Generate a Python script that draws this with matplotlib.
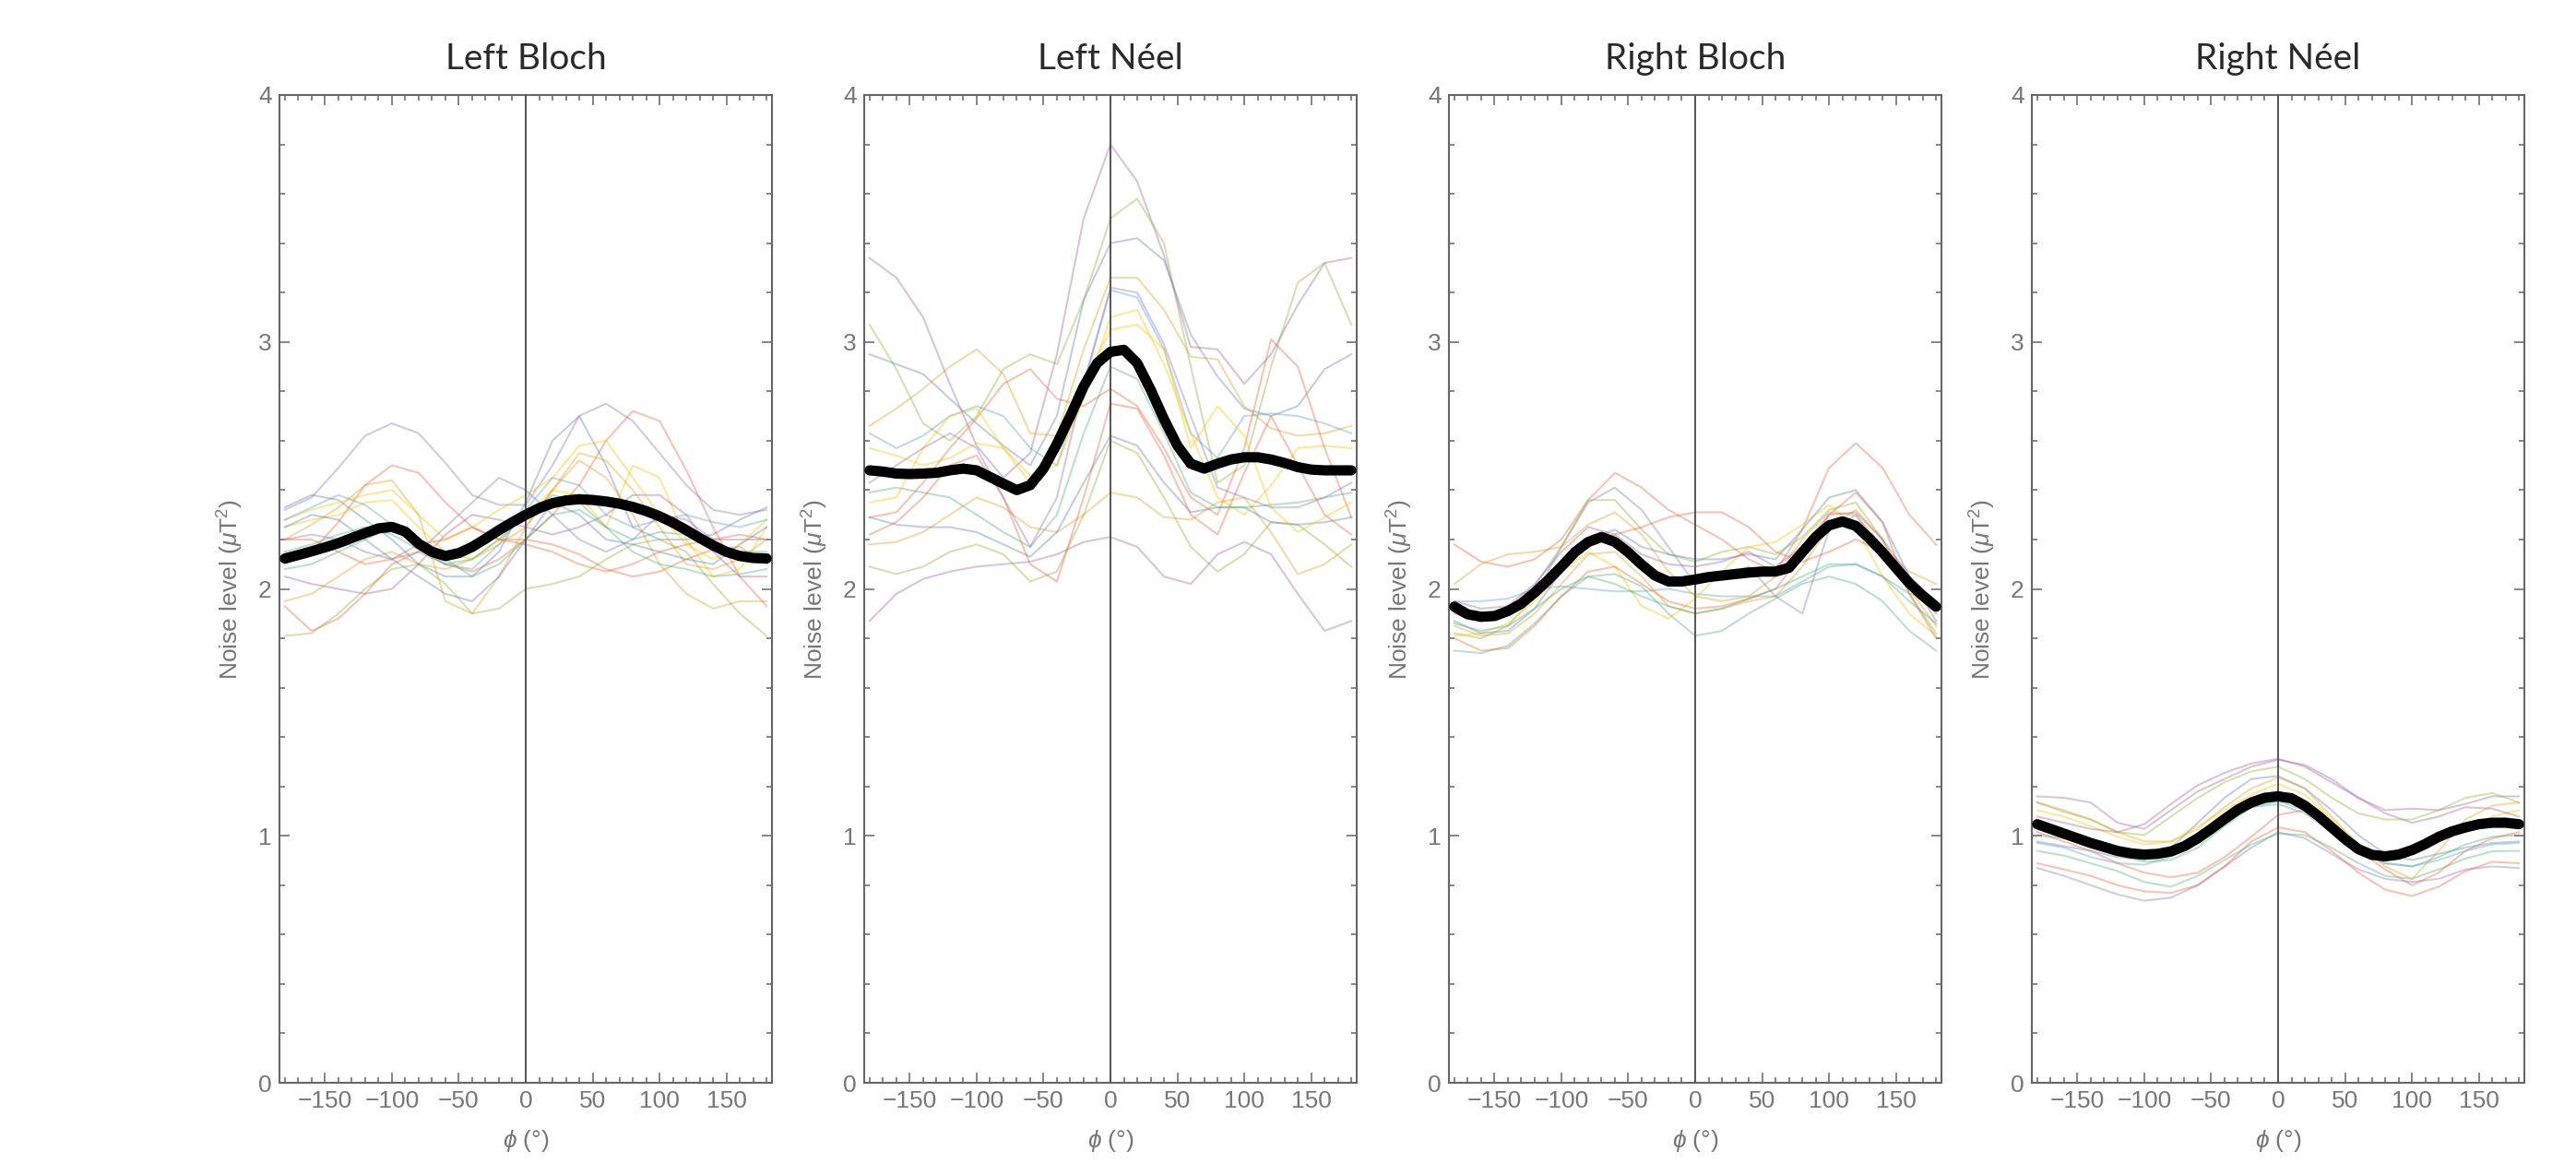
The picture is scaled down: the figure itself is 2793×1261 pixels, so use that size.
import matplotlib
matplotlib.use("Agg")
import matplotlib.pyplot as plt
from matplotlib.ticker import MultipleLocator

plt.rcParams['font.family'] = ['Liberation Sans', 'DejaVu Sans']
plt.rcParams['mathtext.fontset'] = 'custom'
plt.rcParams['mathtext.rm'] = 'Liberation Sans'
plt.rcParams['mathtext.it'] = 'Liberation Sans:italic'
plt.rcParams['mathtext.fallback'] = 'cm'

# ---------------- data ----------------
PHI_FINE = list(range(-180, 181, 10))     # mean curves
PHI_COARSE = list(range(-180, 181, 20))   # individual runs

titles = ["Left Bloch", "Left Néel", "Right Bloch", "Right Néel"]

left_bloch_mean = [2.123, 2.137, 2.152, 2.168, 2.185, 2.206, 2.226, 2.245, 2.251, 2.232,
                   2.183, 2.150, 2.133, 2.145, 2.170, 2.203, 2.238, 2.270, 2.300, 2.327,
                   2.347, 2.358, 2.363, 2.360, 2.354, 2.345, 2.332, 2.315, 2.294, 2.268,
                   2.238, 2.206, 2.176, 2.150, 2.133, 2.125, 2.123]
left_neel_mean = [2.480, 2.475, 2.467, 2.465, 2.467, 2.470, 2.480, 2.487, 2.480, 2.453,
                  2.426, 2.400, 2.420, 2.487, 2.587, 2.700, 2.820, 2.914, 2.960, 2.968,
                  2.914, 2.807, 2.687, 2.580, 2.507, 2.487, 2.507, 2.524, 2.533, 2.533,
                  2.524, 2.510, 2.493, 2.483, 2.480, 2.480, 2.480]
right_bloch_mean = [1.928, 1.897, 1.887, 1.890, 1.910, 1.940, 1.985, 2.035, 2.090, 2.148,
                    2.190, 2.210, 2.190, 2.148, 2.098, 2.054, 2.030, 2.030, 2.038, 2.048,
                    2.054, 2.060, 2.066, 2.070, 2.070, 2.085, 2.148, 2.210, 2.257, 2.273,
                    2.255, 2.205, 2.148, 2.085, 2.023, 1.972, 1.928]
right_neel_mean = [1.047, 1.028, 1.009, 0.990, 0.971, 0.955, 0.939, 0.929, 0.924, 0.927,
                   0.937, 0.958, 0.990, 1.028, 1.068, 1.106, 1.135, 1.154, 1.160, 1.152,
                   1.122, 1.081, 1.034, 0.987, 0.946, 0.923, 0.917, 0.924, 0.942, 0.967,
                   0.996, 1.018, 1.034, 1.047, 1.053, 1.053, 1.047]

left_bloch_runs = [
    [2.32, 2.37, 2.49, 2.62, 2.67, 2.63, 2.51, 2.38, 2.34, 2.34, 2.50, 2.70, 2.75, 2.68, 2.55, 2.42, 2.32, 2.30, 2.32],
    [2.33, 2.38, 2.36, 2.28, 2.20, 2.10, 2.05, 2.05, 2.15, 2.35, 2.60, 2.70, 2.50, 2.25, 2.20, 2.20, 2.22, 2.28, 2.33],
    [1.93, 1.83, 1.88, 1.98, 2.10, 2.15, 2.10, 2.07, 2.12, 2.20, 2.30, 2.42, 2.60, 2.72, 2.68, 2.48, 2.25, 2.05, 1.93],
    [2.10, 2.15, 2.27, 2.42, 2.50, 2.47, 2.35, 2.25, 2.20, 2.20, 2.18, 2.14, 2.08, 2.05, 2.07, 2.12, 2.16, 2.17, 2.10],
    [1.81, 1.82, 1.90, 2.00, 2.08, 2.10, 2.02, 1.90, 1.92, 2.00, 2.02, 2.05, 2.12, 2.18, 2.20, 2.15, 2.02, 1.90, 1.81],
    [2.20, 2.26, 2.33, 2.42, 2.44, 2.30, 1.95, 1.90, 2.05, 2.25, 2.40, 2.55, 2.52, 2.40, 2.25, 2.10, 2.08, 2.12, 2.20],
    [2.25, 2.28, 2.30, 2.35, 2.36, 2.25, 2.15, 2.12, 2.20, 2.30, 2.40, 2.38, 2.25, 2.50, 2.45, 2.20, 2.05, 2.08, 2.25],
    [1.95, 1.98, 2.05, 2.12, 2.15, 2.10, 2.08, 2.12, 2.18, 2.25, 2.40, 2.52, 2.45, 2.30, 2.10, 1.98, 1.92, 1.95, 1.95],
    [2.25, 2.30, 2.28, 2.20, 2.12, 2.05, 1.98, 1.95, 2.05, 2.20, 2.35, 2.30, 2.20, 2.18, 2.15, 2.12, 2.10, 2.18, 2.25],
    [2.15, 2.18, 2.22, 2.25, 2.22, 2.16, 2.10, 2.12, 2.20, 2.30, 2.38, 2.35, 2.25, 2.20, 2.23, 2.22, 2.18, 2.15, 2.15],
    [2.05, 2.02, 2.00, 1.98, 2.00, 2.10, 2.22, 2.30, 2.28, 2.25, 2.22, 2.25, 2.30, 2.38, 2.38, 2.30, 2.15, 2.05, 2.05],
    [2.20, 2.22, 2.20, 2.15, 2.12, 2.15, 2.25, 2.35, 2.45, 2.40, 2.30, 2.20, 2.15, 2.20, 2.30, 2.28, 2.20, 2.20, 2.20],
    [2.20, 2.20, 2.15, 2.10, 2.12, 2.18, 2.20, 2.25, 2.20, 2.18, 2.15, 2.10, 2.07, 2.10, 2.15, 2.18, 2.20, 2.22, 2.20],
    [2.28, 2.32, 2.35, 2.38, 2.40, 2.30, 2.20, 2.25, 2.32, 2.38, 2.45, 2.58, 2.60, 2.45, 2.30, 2.18, 2.12, 2.18, 2.28],
    [2.08, 2.10, 2.15, 2.20, 2.25, 2.20, 2.12, 2.05, 2.10, 2.20, 2.30, 2.32, 2.25, 2.15, 2.10, 2.08, 2.05, 2.06, 2.08],
    [2.28, 2.33, 2.38, 2.34, 2.26, 2.16, 2.10, 2.08, 2.18, 2.32, 2.45, 2.42, 2.30, 2.25, 2.28, 2.30, 2.27, 2.25, 2.28],
]
left_bloch_colors = ["purple", "blue", "red", "red", "olive", "orange", "yellow", "orange",
                     "blue", "green", "pink", "purple", "red", "yellow", "green", "lightblue"]

left_neel_runs = [
    [3.34, 3.26, 3.10, 2.83, 2.58, 2.45, 2.55, 2.95, 3.50, 3.80, 3.65, 3.35, 2.98, 2.97, 2.83, 2.95, 3.15, 3.32, 3.34],
    [3.07, 2.89, 2.67, 2.60, 2.70, 2.89, 2.95, 2.91, 3.17, 3.50, 3.58, 3.40, 2.90, 2.43, 2.50, 2.90, 3.24, 3.32, 3.07],
    [2.95, 2.91, 2.87, 2.77, 2.67, 2.58, 2.50, 2.70, 3.17, 3.40, 3.42, 3.33, 3.03, 2.86, 2.73, 2.70, 2.74, 2.89, 2.95],
    [2.66, 2.73, 2.81, 2.90, 2.97, 2.87, 2.63, 2.62, 2.97, 3.26, 3.26, 3.13, 2.94, 2.93, 2.74, 2.65, 2.62, 2.63, 2.66],
    [2.29, 2.31, 2.43, 2.57, 2.69, 2.83, 2.89, 2.77, 2.74, 2.81, 2.74, 2.57, 2.37, 2.30, 2.57, 3.01, 2.90, 2.57, 2.29],
    [1.87, 1.98, 2.04, 2.07, 2.09, 2.10, 2.11, 2.14, 2.19, 2.21, 2.17, 2.05, 2.02, 2.14, 2.19, 2.14, 1.98, 1.83, 1.87],
    [2.09, 2.06, 2.09, 2.15, 2.18, 2.14, 2.03, 2.07, 2.30, 2.60, 2.55, 2.37, 2.17, 2.07, 2.14, 2.27, 2.26, 2.18, 2.09],
    [2.18, 2.19, 2.23, 2.30, 2.37, 2.33, 2.25, 2.23, 2.30, 2.39, 2.37, 2.29, 2.28, 2.35, 2.37, 2.23, 2.06, 2.10, 2.18],
    [2.29, 2.26, 2.25, 2.25, 2.23, 2.18, 2.13, 2.23, 2.43, 2.62, 2.58, 2.43, 2.31, 2.33, 2.33, 2.27, 2.26, 2.27, 2.29],
    [2.63, 2.57, 2.62, 2.70, 2.74, 2.70, 2.57, 2.50, 2.83, 3.21, 3.18, 2.97, 2.63, 2.53, 2.70, 2.71, 2.70, 2.67, 2.63],
    [2.57, 2.54, 2.50, 2.53, 2.59, 2.57, 2.46, 2.50, 2.77, 3.10, 3.13, 2.91, 2.63, 2.37, 2.30, 2.42, 2.57, 2.58, 2.57],
    [2.39, 2.41, 2.39, 2.37, 2.30, 2.23, 2.17, 2.30, 2.63, 2.90, 2.85, 2.63, 2.39, 2.33, 2.33, 2.34, 2.35, 2.37, 2.39],
    [2.22, 2.27, 2.37, 2.50, 2.54, 2.37, 2.10, 2.03, 2.37, 2.75, 2.73, 2.54, 2.30, 2.22, 2.47, 2.70, 2.50, 2.30, 2.22],
    [2.35, 2.37, 2.57, 2.70, 2.73, 2.57, 2.43, 2.57, 2.83, 3.05, 3.07, 2.97, 2.57, 2.74, 2.62, 2.33, 2.23, 2.29, 2.35],
    [2.43, 2.50, 2.57, 2.63, 2.57, 2.37, 2.17, 2.37, 2.83, 3.22, 3.20, 2.99, 2.70, 2.41, 2.37, 2.33, 2.33, 2.37, 2.43],
]
left_neel_colors = ["pink", "olive", "blue", "orange", "red", "pink", "olive", "orange",
                    "blue", "lightblue", "yellow", "green", "red", "yellow", "purple"]

right_bloch_runs = [
    [2.18, 2.11, 2.09, 2.12, 2.20, 2.36, 2.47, 2.41, 2.32, 2.26, 2.20, 2.12, 2.07, 2.24, 2.49, 2.59, 2.49, 2.30, 2.18],
    [1.75, 1.74, 1.77, 1.86, 1.97, 2.05, 2.06, 2.01, 1.90, 1.81, 1.83, 1.90, 1.96, 2.02, 2.05, 2.02, 1.95, 1.83, 1.75],
    [1.95, 1.95, 1.96, 2.00, 2.01, 2.00, 1.99, 1.99, 2.00, 1.98, 1.97, 1.97, 1.97, 2.03, 2.09, 2.10, 2.05, 1.98, 1.95],
    [1.92, 1.87, 1.90, 2.01, 2.17, 2.35, 2.41, 2.32, 2.17, 2.02, 2.05, 2.09, 1.97, 1.90, 2.24, 2.30, 2.15, 2.01, 1.92],
    [1.82, 1.80, 1.85, 1.97, 2.17, 2.36, 2.36, 2.24, 2.14, 2.11, 2.15, 2.17, 2.14, 2.21, 2.32, 2.35, 2.20, 1.98, 1.82],
    [2.02, 2.10, 2.14, 2.15, 2.17, 2.26, 2.31, 2.22, 2.07, 1.97, 1.95, 1.97, 2.05, 2.20, 2.31, 2.30, 2.17, 2.07, 2.02],
    [1.81, 1.82, 1.86, 1.95, 2.07, 2.15, 2.09, 1.93, 1.88, 1.96, 2.07, 2.17, 2.19, 2.26, 2.34, 2.25, 2.05, 1.90, 1.81],
    [1.80, 1.75, 1.76, 1.85, 1.97, 2.07, 2.09, 2.02, 1.95, 1.92, 1.93, 1.96, 2.00, 2.14, 2.30, 2.39, 2.27, 1.98, 1.80],
    [1.87, 1.82, 1.83, 1.92, 2.07, 2.20, 2.24, 2.17, 2.14, 2.12, 2.12, 2.14, 2.12, 2.24, 2.37, 2.40, 2.27, 2.05, 1.87],
    [1.85, 1.81, 1.82, 1.90, 2.02, 2.14, 2.15, 2.05, 1.93, 1.90, 1.92, 1.95, 1.97, 2.09, 2.25, 2.32, 2.20, 2.00, 1.85],
    [1.90, 1.87, 1.90, 1.97, 2.09, 2.17, 2.22, 2.25, 2.29, 2.31, 2.31, 2.25, 2.15, 2.11, 2.15, 2.20, 2.15, 2.02, 1.90],
    [1.95, 1.92, 1.93, 2.02, 2.15, 2.25, 2.22, 2.14, 2.10, 2.09, 2.11, 2.15, 2.09, 2.17, 2.30, 2.31, 2.20, 2.05, 1.95],
    [1.86, 1.83, 1.85, 1.92, 2.00, 2.05, 2.02, 1.97, 1.93, 1.90, 1.92, 1.96, 2.00, 2.05, 2.10, 2.10, 2.05, 1.95, 1.86],
]
right_bloch_colors = ["red", "green", "lightblue", "purple", "olive", "orange", "yellow", "red",
                      "blue", "orange", "red", "pink", "green"]

right_neel_runs = [
    [1.160, 1.154, 1.135, 1.053, 1.028, 1.104, 1.180, 1.230, 1.280, 1.308, 1.287, 1.230, 1.154, 1.104, 1.110, 1.104, 1.129, 1.160, 1.160],
    [0.870, 0.838, 0.800, 0.763, 0.737, 0.750, 0.800, 0.876, 0.952, 1.015, 0.990, 0.927, 0.864, 0.826, 0.813, 0.826, 0.864, 0.876, 0.870],
    [0.889, 0.864, 0.838, 0.800, 0.775, 0.769, 0.800, 0.876, 0.977, 1.034, 1.015, 0.939, 0.851, 0.782, 0.756, 0.794, 0.857, 0.895, 0.889],
    [0.939, 0.920, 0.889, 0.857, 0.813, 0.794, 0.838, 0.902, 0.965, 1.009, 1.003, 0.952, 0.889, 0.838, 0.826, 0.864, 0.908, 0.937, 0.939],
    [1.015, 0.977, 0.939, 0.889, 0.851, 0.832, 0.851, 0.914, 0.996, 1.085, 1.104, 1.028, 0.939, 0.864, 0.800, 0.851, 0.939, 0.990, 1.015],
    [1.135, 1.097, 1.066, 1.015, 1.003, 1.078, 1.154, 1.217, 1.261, 1.280, 1.230, 1.154, 1.091, 1.066, 1.066, 1.104, 1.154, 1.173, 1.135],
    [0.977, 0.958, 0.939, 0.914, 0.902, 0.952, 1.053, 1.154, 1.230, 1.242, 1.192, 1.104, 1.003, 0.927, 0.902, 0.927, 0.952, 0.971, 0.977],
    [1.135, 1.104, 1.066, 1.015, 0.977, 0.977, 1.028, 1.116, 1.192, 1.236, 1.192, 1.078, 0.965, 0.876, 0.826, 0.939, 1.066, 1.122, 1.135],
    [1.104, 1.078, 1.040, 0.996, 0.965, 0.977, 1.040, 1.104, 1.167, 1.211, 1.167, 1.066, 0.965, 0.914, 0.927, 0.977, 1.028, 1.078, 1.104],
    [1.078, 1.053, 1.028, 1.015, 1.047, 1.129, 1.205, 1.255, 1.293, 1.312, 1.280, 1.217, 1.154, 1.091, 1.053, 1.078, 1.116, 1.110, 1.078],
    [1.003, 0.990, 0.965, 0.927, 0.895, 0.902, 0.952, 1.040, 1.116, 1.141, 1.104, 1.028, 0.952, 0.889, 0.876, 0.914, 0.965, 0.996, 1.003],
    [0.971, 0.952, 0.914, 0.889, 0.883, 0.914, 0.977, 1.053, 1.116, 1.129, 1.091, 1.015, 0.939, 0.889, 0.876, 0.902, 0.939, 0.965, 0.971],
]
right_neel_colors = ["pink", "purple", "red", "green", "red", "olive", "blue", "orange",
                     "yellow", "pink", "green", "lightblue"]

palette = {
    "blue": "#5E81B5", "orange": "#E19C24", "olive": "#8FB032", "red": "#EB6235",
    "purple": "#8778B3", "lightblue": "#5D9EC7", "yellow": "#FFBF00", "pink": "#A5609D",
    "green": "#4CB07A",
}

panels = [
    (left_bloch_mean, left_bloch_runs, left_bloch_colors),
    (left_neel_mean, left_neel_runs, left_neel_colors),
    (right_bloch_mean, right_bloch_runs, right_bloch_colors),
    (right_neel_mean, right_neel_runs, right_neel_colors),
]

# ---------------- layout ----------------
W, H = 2793, 1261
fig = plt.figure(figsize=(W / 100, H / 100), dpi=100)
lefts_px = [303, 937, 1571, 2203]
ax_w_px, top_px, bot_px = 534, 103, 1174

frame_col = "#666666"
label_col = "#777777"

for i, (title, (mean, runs, cols)) in enumerate(zip(titles, panels)):
    ax = fig.add_axes([lefts_px[i] / W, 1 - bot_px / H, ax_w_px / W, (bot_px - top_px) / H])
    for run, c in zip(runs, cols):
        ax.plot(PHI_COARSE, run, color=palette[c], lw=1.5, alpha=0.38,
                solid_joinstyle="round", zorder=2)
    ax.axvline(0, color="#555555", lw=1.4, zorder=3)
    ax.plot(PHI_FINE, mean, color="black", lw=8, solid_capstyle="round",
            solid_joinstyle="round", zorder=5)

    ax.set_xlim(-184, 184)
    ax.set_ylim(0, 4)
    ax.set_xticks([-150, -100, -50, 0, 50, 100, 150])
    ax.xaxis.set_minor_locator(MultipleLocator(10))
    ax.set_yticks([0, 1, 2, 3, 4])
    ax.yaxis.set_minor_locator(MultipleLocator(0.2))
    ax.tick_params(which="both", direction="in", top=True, right=True,
                   color=frame_col, labelcolor=label_col, labelsize=19, width=1.1)
    ax.tick_params(which="major", length=8, pad=6)
    ax.tick_params(which="minor", length=4.5)
    for sp in ax.spines.values():
        sp.set_color(frame_col)
        sp.set_linewidth(1.5)

    ax.set_title(title, fontsize=28, color="#2a2a2a", pad=20, family=["Lato", "DejaVu Sans"])
    ax.set_ylabel(r"Noise level ($\mu$T$^2$)", fontsize=19, color=label_col, labelpad=10)
    ax.set_xlabel(r"$\phi$ (°)", fontsize=19, color=label_col, labelpad=12)

fig.savefig("out.png", dpi=100, facecolor="white")
